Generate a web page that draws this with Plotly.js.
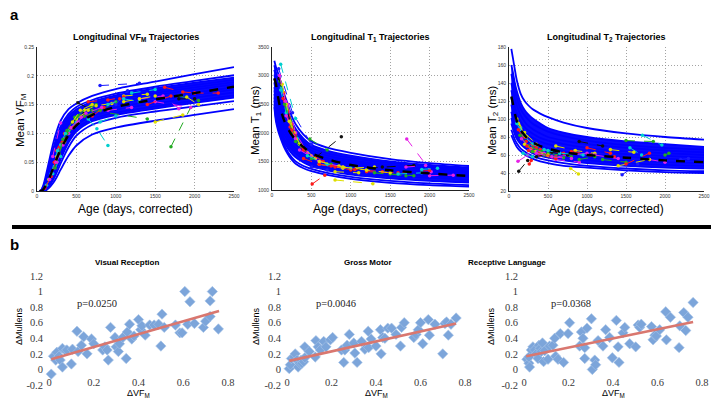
<!DOCTYPE html>
<html><head><meta charset="utf-8">
<script src="https://cdn.plot.ly/plotly-3.0.1.min.js"></script>
<style>html,body{margin:0;padding:0;background:#fff}#chart{width:711px;height:398px}</style>
</head><body><div id="chart"></div>
<script>
// ================= PANEL a DATA =================
const ageGrid = [30, 50, 75, 100, 150, 200, 250, 300, 400, 500, 700, 1000, 1500, 2000, 2500];
const ageTicks = [0, 500, 1000, 1500, 2000, 2500];

// VF_M model trajectories (blue)
const vfCurves = [
 [0, 0.001, 0.008, 0.02, 0.05, 0.08, 0.104, 0.122, 0.142, 0.152, 0.165, 0.177, 0.19, 0.203, 0.215],
 [0, 0.001, 0.006, 0.015, 0.042, 0.07, 0.094, 0.112, 0.134, 0.146, 0.158, 0.169, 0.181, 0.191, 0.201],
 [0, 0, 0.004, 0.012, 0.036, 0.064, 0.088, 0.107, 0.13, 0.142, 0.155, 0.166, 0.178, 0.188, 0.197],
 [0, 0, 0.003, 0.01, 0.032, 0.058, 0.082, 0.1, 0.124, 0.137, 0.151, 0.162, 0.174, 0.184, 0.193],
 [0, 0, 0.002, 0.008, 0.028, 0.052, 0.075, 0.094, 0.119, 0.133, 0.147, 0.158, 0.17, 0.18, 0.189],
 [0, 0, 0.002, 0.006, 0.024, 0.046, 0.068, 0.088, 0.114, 0.129, 0.143, 0.154, 0.166, 0.176, 0.185],
 [0, 0, 0.001, 0.005, 0.02, 0.04, 0.061, 0.081, 0.108, 0.124, 0.139, 0.15, 0.162, 0.171, 0.18],
 [0, 0, 0.001, 0.004, 0.017, 0.035, 0.055, 0.074, 0.102, 0.119, 0.134, 0.145, 0.157, 0.167, 0.176],
 [0, 0, 0, 0.003, 0.014, 0.03, 0.049, 0.068, 0.096, 0.114, 0.13, 0.141, 0.152, 0.162, 0.171],
 [0, 0, 0, 0.002, 0.011, 0.026, 0.043, 0.061, 0.09, 0.108, 0.125, 0.136, 0.147, 0.157, 0.166],
 [0, 0, 0, 0.001, 0.009, 0.022, 0.038, 0.055, 0.084, 0.103, 0.121, 0.132, 0.143, 0.153, 0.162],
 [0, 0, 0, 0.001, 0.007, 0.018, 0.032, 0.048, 0.076, 0.096, 0.115, 0.127, 0.138, 0.147, 0.156],
 [0, 0, 0, 0, 0.005, 0.013, 0.024, 0.037, 0.061, 0.079, 0.098, 0.11, 0.122, 0.132, 0.142]
];
const vfMean = [0, 0, 0.002, 0.007, 0.02, 0.038, 0.056, 0.072, 0.097, 0.114, 0.132, 0.146, 0.159, 0.17, 0.181];
const vfSubjAge = [[800,1300],[650,760,900],[1700,1950],[200,300],[520,700],[1620,1850,2000],[1100,1400],[700,1400],
 [650,900,1100],[1300,1600,1800],[1200,1500],[1500,1850],[350,450,600],[250,350,500],[1800,2050],[900,1200],
 [120,200,300],[150,250,350],[100,180,280],[1000,1150],[400,550,750],[1500,1950],[2000,2300],[1800,2000],[1900,2050],
 [300,400,500],[450,600,800],[600,800,1000],[250,400],[500,650],
 [220,320,420],[280,380,520],[330,430,560],[180,260,360],[600,750,950],[700,850,1050],[520,620,820],[380,480,680],
 [900,1100,1300],[1100,1300,1500],[1400,1700],[230,330],[160,240],[450,550,700],[800,1000]];
const vfSubjVal = [[0.183,0.187],[0.125,0.108,0.079],[0.077,0.145],[0.06,0.118],[0.153,0.14],[0.18,0.172,0.17],[0.165,0.168],[0.14,0.125],
 [0.155,0.158,0.163],[0.16,0.165,0.143],[0.17,0.176],[0.12,0.132],[0.09,0.12,0.135],[0.07,0.1,0.125],[0.165,0.157],[0.14,0.145],
 [0.01,0.03,0.06],[0.02,0.06,0.085],[0.005,0.025,0.075],[0.15,0.174],[0.1,0.13,0.15],[0.155,0.145],[0.17,0.17],[0.16,0.16],[0.163,0.15],
 [0.08,0.105,0.12],[0.11,0.13,0.14],[0.13,0.14,0.155],[0.05,0.1],[0.125,0.14],
 [0.05,0.085,0.11],[0.065,0.1,0.13],[0.08,0.11,0.128],[0.03,0.07,0.1],[0.14,0.148,0.152],[0.13,0.145,0.16],[0.12,0.135,0.145],[0.105,0.128,0.148],
 [0.15,0.16,0.155],[0.155,0.16,0.165],[0.15,0.165],[0.04,0.09],[0.02,0.05],[0.12,0.14,0.15],[0.12,0.13]];

// T1 model trajectories
const t1Curves = [
 [3260, 3150, 3050, 2930, 2700, 2500, 2290, 2150, 1970, 1850, 1740, 1650, 1540, 1470, 1420],
 [3180, 3060, 2940, 2810, 2580, 2390, 2200, 2070, 1900, 1790, 1690, 1600, 1500, 1440, 1395],
 [3100, 2960, 2820, 2690, 2460, 2280, 2120, 2000, 1840, 1740, 1640, 1560, 1470, 1410, 1370],
 [3020, 2880, 2720, 2590, 2370, 2200, 2050, 1940, 1790, 1690, 1600, 1520, 1435, 1380, 1345],
 [2950, 2790, 2620, 2490, 2280, 2120, 1990, 1880, 1740, 1650, 1560, 1485, 1405, 1355, 1320],
 [2880, 2700, 2530, 2400, 2200, 2050, 1930, 1830, 1700, 1610, 1525, 1450, 1375, 1330, 1295],
 [2800, 2610, 2440, 2310, 2120, 1980, 1870, 1780, 1660, 1570, 1490, 1415, 1345, 1300, 1270],
 [2740, 2530, 2360, 2230, 2050, 1920, 1810, 1730, 1620, 1535, 1455, 1380, 1315, 1275, 1245],
 [2680, 2450, 2280, 2160, 1980, 1860, 1760, 1685, 1580, 1500, 1420, 1345, 1285, 1245, 1215],
 [2620, 2380, 2210, 2090, 1910, 1800, 1710, 1640, 1540, 1465, 1385, 1310, 1250, 1210, 1180],
 [2560, 2310, 2150, 2030, 1850, 1730, 1640, 1570, 1480, 1415, 1345, 1270, 1205, 1160, 1130],
 [2500, 2250, 2100, 1990, 1800, 1670, 1570, 1500, 1420, 1370, 1300, 1230, 1160, 1115, 1085],
 [2450, 2200, 2050, 1940, 1760, 1630, 1530, 1460, 1380, 1330, 1265, 1195, 1125, 1085, 1060]
];
const t1Mean = [2950, 2850, 2640, 2460, 2230, 2080, 1964, 1880, 1750, 1642, 1540, 1438, 1345, 1290, 1245];
const t1SubjAge = [[85,260,500],[110,300],[480,700],[1710,2020],[540,880],[510,670],[800,1280],[100,200,350],[150,250,400],
 [200,300,450],[120,220,320],[600,900,1300],[1000,1400,1800],[1200,1600,2000],[1500,1800],[1700,1950],[1900,2100],[800,1100],
 [400,600,800],[500,700],[300,450],[2000,2300],[700,1000],[90,150,250],[130,180,280],
 [110,180,300],[140,230,380],[160,260,420],[180,300,500],[220,350,550],[250,400,650],[300,500,750],[350,600,900],
 [450,700,1000],[600,850,1200],[750,1050,1400],[95,170],[1300,1700],[1600,1900],[900,1200,1500]];
const t1SubjVal = [[3120,2350,1800],[3200,2250],[1890,1700],[1890,1320],[1555,1930],[1105,1260],[1175,1110],[2900,2400,1800],[2700,2150,1700],
 [2500,2000,1650],[2800,2200,1900],[1450,1380,1400],[1350,1400,1430],[1320,1300,1340],[1280,1250],[1400,1430],[1360,1380],[1320,1300],
 [1550,1450,1400],[1400,1350],[1900,1600],[1250,1260],[1450,1350],[2950,2600,2100],[2850,2500,2000],
 [2750,2350,1900],[2600,2100,1750],[2500,2000,1700],[2300,1900,1600],[2200,1800,1550],[2050,1700,1500],[1850,1550,1450],[1700,1500,1400],
 [1600,1450,1380],[1500,1420,1350],[1420,1360,1320],[3000,2550],[1300,1250],[1280,1300],[1400,1350,1300]];

// T2 model trajectories
const t2Curves = [
 [178, 168, 155, 143, 128, 120, 115, 111, 106, 102, 96, 90, 84, 80, 77],
 [160, 152, 140, 131, 118, 110, 105, 101, 95, 90, 85, 80, 75, 72, 69],
 [150, 142, 131, 123, 111, 104, 99, 95, 90, 86, 81, 76, 71, 68, 66],
 [140, 132, 122, 115, 104, 97, 92, 89, 84, 80, 76, 72, 68, 65, 63],
 [132, 124, 114, 107, 97, 91, 87, 84, 79, 76, 72, 68, 64, 62, 60],
 [124, 116, 107, 100, 91, 86, 82, 79, 75, 72, 68, 65, 61, 59, 57],
 [116, 108, 100, 94, 86, 81, 77, 74, 70, 67, 64, 61, 58, 56, 54],
 [108, 101, 94, 88, 81, 76, 73, 70, 66, 63, 60, 57, 54, 52, 51],
 [101, 95, 88, 83, 76, 72, 69, 66, 62, 60, 57, 54, 51, 49, 48],
 [95, 89, 83, 78, 72, 68, 65, 62, 59, 57, 54, 51, 48, 46, 45],
 [88, 83, 77, 73, 67, 64, 61, 59, 56, 54, 51, 48, 45, 43, 42],
 [82, 78, 73, 69, 64, 61, 58, 56, 53, 51, 48, 46, 43, 41, 40]
];
const t2Mean = [125, 117, 106, 98, 88, 82, 77, 74, 70, 67, 63, 60, 57, 54, 52];
const t2SubjAge = [[1450,1650],[1710,1960],[1500,1850],[115,240],[125,240],[260,285],[790,890],[300,500,800],[200,400,700],
 [400,600,1000],[150,300,500],[100,200,350],[900,1200],[1000,1300],[1200,1500],[1800,2000],[1550,1700],[1400,1800],[1500,1800],
 [2200,2300],[2000,2050],[600,900],[250,400,600],[350,550,750],[120,220],
 [100,180,300],[120,220,350],[140,250,420],[160,280,450],[200,330,500],[230,380,600],[300,450,700],[350,550,800],
 [450,650,950],[600,850,1100],[800,1050,1350],[1100,1400],[900,1100],[180,300],[1300,1600]];
const t2SubjVal = [[38,50],[82,71],[76,75],[53,60],[42,54],[50,54],[45,39],[68,62,58],[80,66,62],
 [60,58,62],[90,72,65],[100,85,72],[75,70],[68,62],[55,52],[55,52],[68,60],[48,55],[50,62],
 [55,56],[60,62],[55,52],[65,60,56],[58,63,60],[95,80],
 [95,82,72],[88,75,68],[82,70,64],[78,67,62],[72,64,60],[70,62,58],[64,60,57],[62,58,56],
 [66,62,60],[70,65,62],[64,60,58],[60,56],[55,58],[62,58],[66,63]];

// ================= PANEL b DATA =================
const vrX = [0.01,0.02,0.03,0.035,0.045,0.05,0.06,0.06,0.075,0.08,0.1,0.105,0.125,0.13,0.145,0.155,0.17,0.19,0.2,
 0.24,0.25,0.26,0.265,0.275,0.295,0.3,0.31,0.315,0.33,0.345,0.35,0.36,0.37,0.38,
 0.4,0.41,0.415,0.43,0.45,0.47,0.49,0.505,0.5,0.515,0.565,0.585,0.595,0.607,0.63,0.62,0.65,0.69,0.7,0.72,0.72,0.73,0.757];
const vrY = [-0.06,0.17,0.12,0.22,0.17,0.12,0.03,0.27,0.24,0.25,0.07,0.26,0.49,0.23,0.31,0.42,0.2,0.39,0.33,
 0.25,0.29,0.25,0.12,0.54,0.41,0.29,0.23,0.33,0.41,0.14,0.48,0.58,0.39,0.43,
 0.64,0.51,0.56,0.44,0.57,0.57,0.58,0.71,0.3,0.54,0.57,0.47,0.47,1.0,0.87,0.58,0.59,0.54,0.62,0.68,0.88,1.0,0.52];
const vrTrendX = [0.01, 0.76];
const vrTrendY = [0.13, 0.75];

const gmX = [0.01,0.015,0.02,0.03,0.037,0.045,0.05,0.057,0.063,0.067,0.075,0.08,0.08,0.1,0.127,0.13,0.14,0.15,0.165,0.175,0.195,0.205,
 0.245,0.255,0.26,0.27,0.28,0.3,0.305,0.315,0.335,0.35,0.365,0.367,0.378,0.4,0.42,0.43,0.423,0.44,0.453,0.47,0.49,0.51,0.515,0.527,
 0.57,0.58,0.59,0.6,0.61,0.635,0.64,0.665,0.7,0.71,0.717,0.725,0.737,0.76];
const gmY = [0.01,0.06,0.14,0.16,0.2,0.12,0.03,0.08,0.12,0.08,0.1,0.29,0.15,0.23,0.16,0.37,0.29,0.25,0.36,0.29,0.38,0.41,
 0.25,0.09,0.25,0.31,0.45,0.34,0.21,0.09,0.36,0.26,0.49,0.28,0.39,0.3,0.51,0.41,0.2,0.4,0.53,0.53,0.45,0.3,0.54,0.6,
 0.41,0.45,0.51,0.6,0.33,0.64,0.44,0.58,0.2,0.59,0.61,0.44,0.58,0.66];
const gmTrendX = [0.01, 0.76];
const gmTrendY = [0.11, 0.59];

const rlX = [0.013,0.022,0.025,0.022,0.033,0.04,0.048,0.055,0.063,0.067,0.073,0.078,0.083,0.088,0.093,0.108,0.115,0.13,0.138,0.142,0.153,0.163,0.178,0.198,0.205,
 0.25,0.258,0.265,0.273,0.273,0.283,0.303,0.307,0.318,0.322,0.333,0.355,0.367,0.385,0.397,0.415,0.423,0.427,0.445,0.453,0.475,0.502,0.513,0.52,0.527,
 0.573,0.58,0.588,0.595,0.61,0.637,0.64,0.658,0.697,0.7,0.718,0.727,0.737,0.76];
const rlY = [0.13,0.08,0.03,0.16,0.25,0.29,0.25,0.2,0.14,0.31,0.27,0.23,0.34,0.1,0.24,0.13,0.3,0.31,0.4,0.17,0.13,0.46,0.09,0.46,0.6,
 0.3,0.48,0.4,0.28,0.14,0.53,0.65,0.0,0.12,0.06,0.37,0.3,0.51,0.41,0.15,0.63,0.29,0.09,0.47,0.54,0.33,0.29,0.57,0.54,0.58,
 0.55,0.38,0.44,0.43,0.51,0.74,0.38,0.67,0.28,0.56,0.73,0.5,0.67,0.86];
const rlTrendX = [0.01, 0.76];
const rlTrendY = [0.17, 0.61];

const bXTicks = [0, 0.2, 0.4, 0.6, 0.8];
const bXTickText = ['0', '0.2', '0.4', '0.6', '0.8'];
const bYTicks = [-0.2, 0, 0.2, 0.4, 0.6, 0.8, 1, 1.2];
const bYTickText = ['-0.2', '0', '0.2', '0.4', '0.6', '0.8', '1', '1.2'];
const pValues = ['p=0.0250', 'p=0.0046', 'p=0.0368'];

// ================= STYLES =================
const SANS = 'Liberation Sans, Arial, Helvetica, sans-serif';
const SERIF = 'Liberation Serif';
const palette = {r:'#ff1a1a', g:'#22aa22', b:'#1a1aff', c:'#00cfcf', m:'#e620e6', y:'#dede00', k:'#111111'};
const subjColorOrder = ['b','c','g','m','k','r','y','g','r','m','c','y','k','r','g','m','c','y','r','b','g','m','r','k','y','c','r','g','m','y','r','g','m','c','y','r','m','g','c','y','r','g','m','y','c'];

function px(x){return x/711;}
function py(y){return 1-y/398;}

const traces = [];
function addPanelA(curves, mean, sAge, sVal, fillLo, fillHi, xa, ya){
  traces.push({x: ageGrid, y: curves[fillLo], xaxis: xa, yaxis: ya, mode: 'lines',
    line: {width: 0, shape: 'spline', smoothing: 0.8}, hoverinfo: 'skip'});
  traces.push({x: ageGrid, y: curves[fillHi], xaxis: xa, yaxis: ya, mode: 'lines', fill: 'tonexty',
    fillcolor: '#0a0aff', line: {width: 0, shape: 'spline', smoothing: 0.8}, hoverinfo: 'skip'});
  curves.forEach(c => traces.push({x: ageGrid, y: c, xaxis: xa, yaxis: ya, mode: 'lines',
    line: {color: '#0000ff', width: 1.8, shape: 'spline', smoothing: 0.8}}));
  sAge.forEach((a, i) => {
    const col = palette[subjColorOrder[i % subjColorOrder.length]];
    traces.push({x: a, y: sVal[i], xaxis: xa, yaxis: ya, mode: 'lines+markers',
      line: {color: col, width: 1, dash: 'dash'}, marker: {color: col, size: 3.5, symbol: 'circle'}});
  });
  traces.push({x: ageGrid, y: mean, xaxis: xa, yaxis: ya, mode: 'lines',
    line: {color: '#000', width: 2.4, dash: 'dash', shape: 'spline', smoothing: 0.8}});
}
addPanelA(vfCurves, vfMean, vfSubjAge, vfSubjVal, 10, 2, 'x', 'y');
addPanelA(t1Curves, t1Mean, t1SubjAge, t1SubjVal, 10, 1, 'x2', 'y2');
addPanelA(t2Curves, t2Mean, t2SubjAge, t2SubjVal, 9, 1, 'x3', 'y3');

function addPanelB(xs, ys, tx, ty, xa, ya){
  traces.push({x: xs, y: ys, xaxis: xa, yaxis: ya, mode: 'markers', cliponaxis: false,
    marker: {symbol: 'diamond', size: 8, color: '#7ca5da', line: {color: '#a8c4e8', width: 0.6}}});
  traces.push({x: tx, y: ty, xaxis: xa, yaxis: ya, mode: 'lines', cliponaxis: false,
    line: {color: '#d9776f', width: 2.6}});
}
addPanelB(vrX, vrY, vrTrendX, vrTrendY, 'x4', 'y4');
addPanelB(gmX, gmY, gmTrendX, gmTrendY, 'x5', 'y5');
addPanelB(rlX, rlY, rlTrendX, rlTrendY, 'x6', 'y6');

// ================= LAYOUT =================
const layout = {width: 711, height: 398, margin: {l:0, r:0, t:0, b:0}, showlegend: false,
  paper_bgcolor: '#fff', plot_bgcolor: '#fff', font: {family: SANS, color: '#000'}, annotations: [], shapes: []};

const aBoxes = [[37,234,47,191],[272,469,47,190],[509,704,47,191]];
const aYRanges = [[0,0.25],[1000,3500],[20,180]];
const aYDtick = [0.05, 500, 20];
aBoxes.forEach((b, i) => {
  const n = i === 0 ? '' : String(i+1);
  const common = {showgrid: true, gridcolor: '#8c8c8c', griddash: '1px,2px', gridwidth: 0.8, zeroline: false,
    showline: true, linecolor: '#222', linewidth: 1, ticks: '', tickfont: {size: 5, color: '#333', family: SANS}};
  layout['xaxis'+n] = Object.assign({}, common, {domain: [px(b[0]), px(b[1])], range: [0,2500], tickvals: ageTicks,
    anchor: 'y'+n, ticklabelstandoff: 0});
  layout['yaxis'+n] = Object.assign({}, common, {domain: [py(b[3]), py(b[2])], range: aYRanges[i], dtick: aYDtick[i],
    tick0: aYRanges[i][0], anchor: 'x'+n, ticklabelstandoff: 1});
});
const bBoxes = [[49,228],[287,465],[524,702]];
bBoxes.forEach((b, i) => {
  const n = String(i+4);
  layout['xaxis'+n] = {domain: [px(b[0]), px(b[1])], range: [0,0.8], tickvals: bXTicks, ticktext: bXTickText,
    anchor: 'free', position: py(374), showgrid: false, zeroline: false, showline: false, ticks: '',
    tickfont: {family: SERIF, size: 10.5, color: '#3a3a3a'}};
  layout['yaxis'+n] = {domain: [py(385), py(276)], range: [-0.2,1.2], tickvals: bYTicks, ticktext: bYTickText,
    anchor: 'x'+n, showgrid: false, zeroline: false, showline: false, ticks: '', ticklabelstandoff: 5,
    tickfont: {family: SERIF, size: 10.5, color: '#3a3a3a'}};
});

function ann(text, x, y, size, opts){
  layout.annotations.push(Object.assign({text: text, x: x, y: y, xref: 'paper', yref: 'paper', showarrow: false,
    xanchor: 'center', yanchor: 'middle', font: {family: SANS, size: size, color: '#000'}}, opts || {}));
}
ann('<b>a</b>', px(14), py(15), 15);
ann('<b>b</b>', px(14), py(244), 15);
const aTitles = ['<b>Longitudinal VF<sub>M</sub> Trajectories</b>', '<b>Longitudinal T<sub>1</sub> Trajectories</b>', '<b>Longitudinal T<sub>2</sub> Trajectories</b>'];
const aYTitles = ['Mean VF<sub>M</sub>', 'Mean T<sub>1</sub> (ms)', 'Mean T<sub>2</sub> (ms)'];
const aYTitleX = [21, 256, 493];
aBoxes.forEach((b, i) => {
  const cx = (b[0]+b[1])/2;
  ann(aTitles[i], px(cx), py(37), 9);
  ann(aYTitles[i], px(aYTitleX[i]), py(120), 11.5, {textangle: -90});
  ann('Age (days, corrected)', px(cx), py(209), 12);
});
const bTitles = ['<b>Visual Reception</b>', '<b>Gross Motor</b>', '<b>Receptive Language</b>'];
const bTitleX = [127, 368, 507];
const bYTitleX = [19, 256, 491];
const pX = [0.215, 0.22, 0.21];
bBoxes.forEach((b, i) => {
  const cx = (b[0]+b[1])/2;
  ann(bTitles[i], px(bTitleX[i]), py(262), 8);
  ann('ΔMullens', px(bYTitleX[i]), py(326), 9, {textangle: -90});
  ann('ΔVF<sub>M</sub>', px(cx), py(393), 9);
  layout.annotations.push({text: pValues[i], x: pX[i], y: 0.85, xref: 'x'+(i+4), yref: 'y'+(i+4), showarrow: false,
    xanchor: 'center', yanchor: 'middle', font: {family: SERIF, size: 10.5, color: '#222'}});
});
layout.shapes.push({type: 'line', xref: 'paper', yref: 'paper', x0: px(12), x1: px(711), y0: py(227), y1: py(227),
  line: {color: '#000', width: 4}});

Plotly.newPlot('chart', traces, layout, {staticPlot: true, displayModeBar: false});
</script></body></html>
